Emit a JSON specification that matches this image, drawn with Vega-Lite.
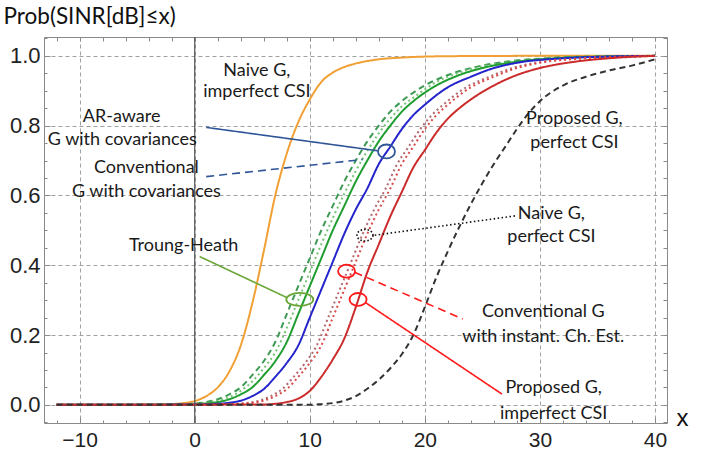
{
  "$schema": "https://vega.github.io/schema/vega-lite/v6.json",
  "width": 623,
  "height": 386,
  "autosize": {"type": "none"},
  "padding": {"left": 44, "top": 37, "right": 44, "bottom": 27},
  "background": "white",
  "config": {"view": {"stroke": "#8a8a8a", "strokeWidth": 1}},
  "resolve": {"axis": {"x": "independent", "y": "independent"}, "scale": {"color": "independent", "strokeDash": "independent"}},
  "datasets": {
    "curves": [
      {"s": "naiveImp", "x": -12, "y": 0}, {"s": "naiveImp", "x": -6, "y": 0.0005}, {"s": "naiveImp", "x": -3, "y": 0.001}, {"s": "naiveImp", "x": -1, "y": 0.005}, {"s": "naiveImp", "x": 0, "y": 0.011}, {"s": "naiveImp", "x": 1, "y": 0.025}, {"s": "naiveImp", "x": 2, "y": 0.05}, {"s": "naiveImp", "x": 3, "y": 0.095}, {"s": "naiveImp", "x": 4, "y": 0.17}, {"s": "naiveImp", "x": 5, "y": 0.29}, {"s": "naiveImp", "x": 6, "y": 0.44}, {"s": "naiveImp", "x": 7, "y": 0.6}, {"s": "naiveImp", "x": 8, "y": 0.72}, {"s": "naiveImp", "x": 9, "y": 0.81}, {"s": "naiveImp", "x": 10, "y": 0.875}, {"s": "naiveImp", "x": 11, "y": 0.925}, {"s": "naiveImp", "x": 12, "y": 0.952}, {"s": "naiveImp", "x": 13, "y": 0.968}, {"s": "naiveImp", "x": 14, "y": 0.978}, {"s": "naiveImp", "x": 16, "y": 0.99}, {"s": "naiveImp", "x": 18, "y": 0.995}, {"s": "naiveImp", "x": 22, "y": 0.999}, {"s": "naiveImp", "x": 30, "y": 1}, {"s": "naiveImp", "x": 40, "y": 1},

      {"s": "gDash", "x": -12, "y": 0}, {"s": "gDash", "x": -2, "y": 0.001}, {"s": "gDash", "x": 0, "y": 0.004}, {"s": "gDash", "x": 1, "y": 0.008}, {"s": "gDash", "x": 2, "y": 0.016}, {"s": "gDash", "x": 3, "y": 0.03}, {"s": "gDash", "x": 4, "y": 0.05}, {"s": "gDash", "x": 5, "y": 0.085}, {"s": "gDash", "x": 6, "y": 0.125}, {"s": "gDash", "x": 7, "y": 0.18}, {"s": "gDash", "x": 8, "y": 0.26}, {"s": "gDash", "x": 9, "y": 0.34}, {"s": "gDash", "x": 10, "y": 0.42}, {"s": "gDash", "x": 11, "y": 0.5}, {"s": "gDash", "x": 12, "y": 0.57}, {"s": "gDash", "x": 13, "y": 0.64}, {"s": "gDash", "x": 14, "y": 0.7}, {"s": "gDash", "x": 15, "y": 0.755}, {"s": "gDash", "x": 16, "y": 0.8}, {"s": "gDash", "x": 17, "y": 0.84}, {"s": "gDash", "x": 18, "y": 0.87}, {"s": "gDash", "x": 20, "y": 0.915}, {"s": "gDash", "x": 22, "y": 0.945}, {"s": "gDash", "x": 24, "y": 0.965}, {"s": "gDash", "x": 27, "y": 0.983}, {"s": "gDash", "x": 31, "y": 0.994}, {"s": "gDash", "x": 36, "y": 0.999}, {"s": "gDash", "x": 40, "y": 1},

      {"s": "gDot", "x": -12, "y": 0}, {"s": "gDot", "x": -1, "y": 0.002}, {"s": "gDot", "x": 0, "y": 0.004}, {"s": "gDot", "x": 1, "y": 0.006}, {"s": "gDot", "x": 2, "y": 0.012}, {"s": "gDot", "x": 3, "y": 0.022}, {"s": "gDot", "x": 4, "y": 0.04}, {"s": "gDot", "x": 5, "y": 0.067}, {"s": "gDot", "x": 6, "y": 0.105}, {"s": "gDot", "x": 7, "y": 0.15}, {"s": "gDot", "x": 8, "y": 0.22}, {"s": "gDot", "x": 9, "y": 0.3}, {"s": "gDot", "x": 10, "y": 0.38}, {"s": "gDot", "x": 11, "y": 0.46}, {"s": "gDot", "x": 12, "y": 0.535}, {"s": "gDot", "x": 13, "y": 0.605}, {"s": "gDot", "x": 14, "y": 0.67}, {"s": "gDot", "x": 15, "y": 0.728}, {"s": "gDot", "x": 16, "y": 0.778}, {"s": "gDot", "x": 17, "y": 0.82}, {"s": "gDot", "x": 18, "y": 0.855}, {"s": "gDot", "x": 19, "y": 0.88}, {"s": "gDot", "x": 21, "y": 0.925}, {"s": "gDot", "x": 23, "y": 0.952}, {"s": "gDot", "x": 25, "y": 0.97}, {"s": "gDot", "x": 28, "y": 0.985}, {"s": "gDot", "x": 32, "y": 0.995}, {"s": "gDot", "x": 40, "y": 1},

      {"s": "gSolid", "x": -12, "y": 0}, {"s": "gSolid", "x": -1, "y": 0.001}, {"s": "gSolid", "x": 1, "y": 0.004}, {"s": "gSolid", "x": 2, "y": 0.008}, {"s": "gSolid", "x": 3, "y": 0.016}, {"s": "gSolid", "x": 4, "y": 0.03}, {"s": "gSolid", "x": 5, "y": 0.05}, {"s": "gSolid", "x": 6, "y": 0.085}, {"s": "gSolid", "x": 7, "y": 0.125}, {"s": "gSolid", "x": 8, "y": 0.18}, {"s": "gSolid", "x": 9, "y": 0.26}, {"s": "gSolid", "x": 10, "y": 0.34}, {"s": "gSolid", "x": 11, "y": 0.42}, {"s": "gSolid", "x": 12, "y": 0.5}, {"s": "gSolid", "x": 13, "y": 0.57}, {"s": "gSolid", "x": 14, "y": 0.64}, {"s": "gSolid", "x": 15, "y": 0.7}, {"s": "gSolid", "x": 16, "y": 0.755}, {"s": "gSolid", "x": 17, "y": 0.8}, {"s": "gSolid", "x": 18, "y": 0.84}, {"s": "gSolid", "x": 19, "y": 0.87}, {"s": "gSolid", "x": 21, "y": 0.915}, {"s": "gSolid", "x": 23, "y": 0.945}, {"s": "gSolid", "x": 25, "y": 0.965}, {"s": "gSolid", "x": 28, "y": 0.983}, {"s": "gSolid", "x": 32, "y": 0.994}, {"s": "gSolid", "x": 36, "y": 0.998}, {"s": "gSolid", "x": 40, "y": 1},

      {"s": "blue", "x": -12, "y": 0}, {"s": "blue", "x": 0, "y": 0.001}, {"s": "blue", "x": 2, "y": 0.003}, {"s": "blue", "x": 3, "y": 0.006}, {"s": "blue", "x": 4, "y": 0.012}, {"s": "blue", "x": 5, "y": 0.025}, {"s": "blue", "x": 6, "y": 0.045}, {"s": "blue", "x": 7, "y": 0.08}, {"s": "blue", "x": 8, "y": 0.12}, {"s": "blue", "x": 9, "y": 0.17}, {"s": "blue", "x": 10, "y": 0.25}, {"s": "blue", "x": 11, "y": 0.33}, {"s": "blue", "x": 12, "y": 0.41}, {"s": "blue", "x": 13, "y": 0.49}, {"s": "blue", "x": 14, "y": 0.56}, {"s": "blue", "x": 15, "y": 0.62}, {"s": "blue", "x": 16, "y": 0.69}, {"s": "blue", "x": 17, "y": 0.74}, {"s": "blue", "x": 18, "y": 0.79}, {"s": "blue", "x": 19, "y": 0.83}, {"s": "blue", "x": 20, "y": 0.86}, {"s": "blue", "x": 22, "y": 0.91}, {"s": "blue", "x": 24, "y": 0.94}, {"s": "blue", "x": 26, "y": 0.965}, {"s": "blue", "x": 28, "y": 0.98}, {"s": "blue", "x": 32, "y": 0.993}, {"s": "blue", "x": 36, "y": 0.998}, {"s": "blue", "x": 40, "y": 1},

      {"s": "brownDot", "x": -12, "y": 0}, {"s": "brownDot", "x": 1.6, "y": 0.001}, {"s": "brownDot", "x": 3.6, "y": 0.003}, {"s": "brownDot", "x": 4.6, "y": 0.006}, {"s": "brownDot", "x": 5.6, "y": 0.012}, {"s": "brownDot", "x": 6.6, "y": 0.025}, {"s": "brownDot", "x": 7.6, "y": 0.045}, {"s": "brownDot", "x": 8.6, "y": 0.08}, {"s": "brownDot", "x": 9.6, "y": 0.12}, {"s": "brownDot", "x": 10.6, "y": 0.17}, {"s": "brownDot", "x": 11.6, "y": 0.25}, {"s": "brownDot", "x": 12.6, "y": 0.33}, {"s": "brownDot", "x": 13.6, "y": 0.41}, {"s": "brownDot", "x": 14.6, "y": 0.49}, {"s": "brownDot", "x": 15.6, "y": 0.56}, {"s": "brownDot", "x": 16.6, "y": 0.62}, {"s": "brownDot", "x": 17.6, "y": 0.69}, {"s": "brownDot", "x": 18.6, "y": 0.74}, {"s": "brownDot", "x": 19.6, "y": 0.79}, {"s": "brownDot", "x": 20.6, "y": 0.83}, {"s": "brownDot", "x": 21.6, "y": 0.86}, {"s": "brownDot", "x": 23.6, "y": 0.91}, {"s": "brownDot", "x": 25.6, "y": 0.94}, {"s": "brownDot", "x": 27.6, "y": 0.965}, {"s": "brownDot", "x": 29.6, "y": 0.98}, {"s": "brownDot", "x": 33.6, "y": 0.993}, {"s": "brownDot", "x": 37.6, "y": 0.998}, {"s": "brownDot", "x": 40, "y": 1},

      {"s": "redDot", "x": -12, "y": 0}, {"s": "redDot", "x": 2, "y": 0.001}, {"s": "redDot", "x": 4, "y": 0.003}, {"s": "redDot", "x": 5, "y": 0.006}, {"s": "redDot", "x": 6, "y": 0.012}, {"s": "redDot", "x": 7, "y": 0.025}, {"s": "redDot", "x": 8, "y": 0.045}, {"s": "redDot", "x": 9, "y": 0.08}, {"s": "redDot", "x": 10, "y": 0.12}, {"s": "redDot", "x": 11, "y": 0.17}, {"s": "redDot", "x": 12, "y": 0.25}, {"s": "redDot", "x": 13, "y": 0.33}, {"s": "redDot", "x": 14, "y": 0.41}, {"s": "redDot", "x": 15, "y": 0.49}, {"s": "redDot", "x": 16, "y": 0.56}, {"s": "redDot", "x": 17, "y": 0.62}, {"s": "redDot", "x": 18, "y": 0.69}, {"s": "redDot", "x": 19, "y": 0.74}, {"s": "redDot", "x": 20, "y": 0.79}, {"s": "redDot", "x": 21, "y": 0.83}, {"s": "redDot", "x": 22, "y": 0.86}, {"s": "redDot", "x": 24, "y": 0.91}, {"s": "redDot", "x": 26, "y": 0.94}, {"s": "redDot", "x": 28, "y": 0.965}, {"s": "redDot", "x": 30, "y": 0.98}, {"s": "redDot", "x": 34, "y": 0.993}, {"s": "redDot", "x": 38, "y": 0.998}, {"s": "redDot", "x": 40, "y": 1},

      {"s": "redSolid", "x": -12, "y": 0}, {"s": "redSolid", "x": 6, "y": 0.001}, {"s": "redSolid", "x": 7, "y": 0.003}, {"s": "redSolid", "x": 8, "y": 0.008}, {"s": "redSolid", "x": 9, "y": 0.018}, {"s": "redSolid", "x": 10, "y": 0.04}, {"s": "redSolid", "x": 11, "y": 0.08}, {"s": "redSolid", "x": 12, "y": 0.13}, {"s": "redSolid", "x": 13, "y": 0.19}, {"s": "redSolid", "x": 14, "y": 0.28}, {"s": "redSolid", "x": 15, "y": 0.38}, {"s": "redSolid", "x": 16, "y": 0.46}, {"s": "redSolid", "x": 17, "y": 0.54}, {"s": "redSolid", "x": 18, "y": 0.61}, {"s": "redSolid", "x": 19, "y": 0.68}, {"s": "redSolid", "x": 20, "y": 0.73}, {"s": "redSolid", "x": 21, "y": 0.78}, {"s": "redSolid", "x": 22, "y": 0.82}, {"s": "redSolid", "x": 23, "y": 0.85}, {"s": "redSolid", "x": 24, "y": 0.875}, {"s": "redSolid", "x": 26, "y": 0.915}, {"s": "redSolid", "x": 28, "y": 0.945}, {"s": "redSolid", "x": 30, "y": 0.965}, {"s": "redSolid", "x": 33, "y": 0.983}, {"s": "redSolid", "x": 36, "y": 0.993}, {"s": "redSolid", "x": 40, "y": 1},

      {"s": "blackDash", "x": -12, "y": 0}, {"s": "blackDash", "x": 10, "y": 0}, {"s": "blackDash", "x": 11, "y": 0.002}, {"s": "blackDash", "x": 12, "y": 0.005}, {"s": "blackDash", "x": 13, "y": 0.012}, {"s": "blackDash", "x": 14, "y": 0.025}, {"s": "blackDash", "x": 15, "y": 0.046}, {"s": "blackDash", "x": 16, "y": 0.072}, {"s": "blackDash", "x": 17, "y": 0.105}, {"s": "blackDash", "x": 18, "y": 0.145}, {"s": "blackDash", "x": 19, "y": 0.2}, {"s": "blackDash", "x": 20, "y": 0.28}, {"s": "blackDash", "x": 21, "y": 0.365}, {"s": "blackDash", "x": 22, "y": 0.44}, {"s": "blackDash", "x": 23, "y": 0.51}, {"s": "blackDash", "x": 24, "y": 0.575}, {"s": "blackDash", "x": 25, "y": 0.635}, {"s": "blackDash", "x": 26, "y": 0.69}, {"s": "blackDash", "x": 27, "y": 0.74}, {"s": "blackDash", "x": 28, "y": 0.79}, {"s": "blackDash", "x": 29, "y": 0.835}, {"s": "blackDash", "x": 30, "y": 0.87}, {"s": "blackDash", "x": 32, "y": 0.915}, {"s": "blackDash", "x": 34, "y": 0.94}, {"s": "blackDash", "x": 36, "y": 0.958}, {"s": "blackDash", "x": 38, "y": 0.972}, {"s": "blackDash", "x": 40, "y": 0.99}
    ],
    "ptr": [
      {"k": "blueSolid", "x": 1.0, "y": 0.795, "x2": 15.9, "y2": 0.728},
      {"k": "blueDash", "x": 1.0, "y": 0.654, "x2": 14.6, "y2": 0.703},
      {"k": "green", "x": 0.43, "y": 0.425, "x2": 7.97, "y2": 0.308},
      {"k": "blackDot", "x": 15.65, "y": 0.486, "x2": 27.97, "y2": 0.542},
      {"k": "redDash", "x": 13.9, "y": 0.38, "x2": 23.3, "y2": 0.246},
      {"k": "redSolid", "x": 14.8, "y": 0.294, "x2": 26.7, "y2": 0.031}
    ],
    "ell": [
      {"id": "blue", "x": 16.67, "y": 0.726},
      {"id": "green", "x": 9.13, "y": 0.302},
      {"id": "black", "x": 14.8, "y": 0.486},
      {"id": "redDash", "x": 13.2, "y": 0.383},
      {"id": "redSolid", "x": 14.2, "y": 0.302}
    ],
    "labels": [
      {"t": "Naive G,", "x": 5.4, "y": 0.958},
      {"t": "imperfect CSI", "x": 5.4, "y": 0.895},
      {"t": "AR-aware", "x": -6.35, "y": 0.826},
      {"t": "G with covariances", "x": -6.3, "y": 0.758},
      {"t": "Conventional", "x": -4.2, "y": 0.68},
      {"t": "G with covariances", "x": -4.2, "y": 0.611},
      {"t": "Troung-Heath", "x": -0.96, "y": 0.454},
      {"t": "Proposed G,", "x": 33.0, "y": 0.82},
      {"t": "perfect CSI", "x": 33.0, "y": 0.749},
      {"t": "Naive G,", "x": 31.0, "y": 0.548},
      {"t": "perfect CSI", "x": 31.0, "y": 0.482},
      {"t": "Conventional G", "x": 30.3, "y": 0.265},
      {"t": "with instant. Ch. Est.", "x": 30.3, "y": 0.193},
      {"t": "Proposed G,", "x": 31.2, "y": 0.047},
      {"t": "imperfect CSI", "x": 31.2, "y": -0.025}
    ]
  },
  "layer": [
    {
      "data": {"name": "curves"},
      "mark": {"type": "line", "strokeWidth": 2, "interpolate": "monotone"},
      "encoding": {
        "x": {"field": "x", "type": "quantitative",
          "scale": {"domain": [-13.1, 41.05], "nice": false, "zero": false},
          "axis": {"orient": "bottom", "values": [-10, 0, 10, 20, 30, 40], "format": "d",
            "grid": true, "gridDash": [4, 3], "gridColor": "#a0a0a0", "gridWidth": 1,
            "domain": false, "ticks": true, "tickSize": -6, "tickColor": "#8a8a8a",
            "labelFont": "Liberation Sans", "labelFontSize": 21, "labelColor": "#222222", "labelPadding": 12,
            "title": "x", "titleFont": "Liberation Sans", "titleFontSize": 24, "titleFontWeight": "normal", "titleColor": "#111111",
            "titleX": 632, "titleY": -5, "titleAlign": "left", "titleBaseline": "middle", "titleAngle": 0}},
        "y": {"field": "y", "type": "quantitative",
          "scale": {"domain": [-0.052, 1.054], "nice": false, "zero": false},
          "axis": {"orient": "left", "values": [0, 0.2, 0.4, 0.6, 0.8, 1.0], "format": ".1f",
            "grid": true, "gridDash": [4, 3], "gridColor": "#a0a0a0", "gridWidth": 1,
            "domain": false, "ticks": true, "tickSize": -6, "tickColor": "#8a8a8a",
            "labelFont": "Liberation Sans", "labelFontSize": 22, "labelColor": "#222222", "labelPadding": 10,
            "title": "Prob(SINR[dB]≤x)", "titleFont": "Lato", "titleFontSize": 22.5, "titleFontWeight": "normal", "titleColor": "#111111",
            "titleX": -41, "titleY": -21, "titleAlign": "left", "titleBaseline": "middle", "titleAngle": 0}},
        "color": {"field": "s", "type": "nominal", "legend": null,
          "scale": {"domain": ["naiveImp", "gDash", "gDot", "gSolid", "blue", "brownDot", "redDot", "redSolid", "blackDash"],
            "range": ["#f0a035", "#3f9a55", "#74c474", "#1f9e2f", "#2424cc", "#b3686e", "#d84a4a", "#cc2b2b", "#333333"]}},
        "strokeDash": {"field": "s", "type": "nominal", "legend": null,
          "scale": {"domain": ["naiveImp", "gDash", "gDot", "gSolid", "blue", "brownDot", "redDot", "redSolid", "blackDash"],
            "range": [[1, 0], [6, 4], [2, 3], [1, 0], [1, 0], [2, 3], [2, 3], [1, 0], [6, 4]]}}
      }
    },
    {
      "data": {"values": [{"x0": 0}]},
      "mark": {"type": "rule", "color": "#555555", "strokeWidth": 1.2},
      "encoding": {
        "x": {"field": "x0", "type": "quantitative",
          "axis": {"orient": "top", "values": [-12, -10, -8, -6, -4, -2, 0, 2, 4, 6, 8, 10, 12, 14, 16, 18, 20, 22, 24, 26, 28, 30, 32, 34, 36, 38, 40],
            "labels": false, "grid": false, "domain": false, "tickSize": -4, "tickColor": "#8a8a8a", "title": null}}
      }
    },
    {
      "data": {"values": [{"x0": 0}]},
      "mark": {"type": "rule", "opacity": 0},
      "encoding": {
        "x": {"field": "x0", "type": "quantitative",
          "axis": {"orient": "bottom", "values": [-12, -8, -6, -4, -2, 2, 4, 6, 8, 12, 14, 16, 18, 22, 24, 26, 28, 32, 34, 36, 38],
            "labels": false, "grid": false, "domain": false, "tickSize": -3, "tickColor": "#8a8a8a", "title": null}}
      }
    },
    {
      "data": {"name": "ptr"},
      "mark": {"type": "rule", "strokeWidth": 1.6},
      "encoding": {
        "x": {"field": "x", "type": "quantitative", "axis": null},
        "y": {"field": "y", "type": "quantitative", "axis": null},
        "x2": {"field": "x2"},
        "y2": {"field": "y2"},
        "color": {"field": "k", "type": "nominal", "legend": null,
          "scale": {"domain": ["blueSolid", "blueDash", "green", "blackDot", "redDash", "redSolid"],
            "range": ["#2f5597", "#2f5597", "#6aa636", "#111111", "#ff1a1a", "#ff1a1a"]}},
        "strokeDash": {"field": "k", "type": "nominal", "legend": null,
          "scale": {"domain": ["blueSolid", "blueDash", "green", "blackDot", "redDash", "redSolid"],
            "range": [[1, 0], [8, 5], [1, 0], [1.5, 2.5], [8, 5], [1, 0]]}}
      }
    },
    {
      "data": {"name": "ell"},
      "transform": [{"filter": "datum.id === 'blue'"}],
      "mark": {"type": "point", "filled": false, "stroke": "#2f5597", "strokeWidth": 1.8, "opacity": 1, "size": 289,
        "shape": "M1,0 C1,0.453 0.5523,0.82 0,0.82 C-0.5523,0.82 -1,0.453 -1,0 C-1,-0.453 -0.5523,-0.82 0,-0.82 C0.5523,-0.82 1,-0.453 1,0 Z"},
      "encoding": {
        "x": {"field": "x", "type": "quantitative", "axis": null},
        "y": {"field": "y", "type": "quantitative", "axis": null}
      }
    },
    {
      "data": {"name": "ell"},
      "transform": [{"filter": "datum.id === 'green'"}],
      "mark": {"type": "point", "filled": false, "stroke": "#6aa636", "strokeWidth": 1.8, "opacity": 1, "size": 729,
        "shape": "M1,0 C1,0.265 0.5523,0.48 0,0.48 C-0.5523,0.48 -1,0.265 -1,0 C-1,-0.265 -0.5523,-0.48 0,-0.48 C0.5523,-0.48 1,-0.265 1,0 Z"},
      "encoding": {
        "x": {"field": "x", "type": "quantitative", "axis": null},
        "y": {"field": "y", "type": "quantitative", "axis": null}
      }
    },
    {
      "data": {"name": "ell"},
      "transform": [{"filter": "datum.id === 'black'"}],
      "mark": {"type": "point", "filled": false, "stroke": "#111111", "strokeWidth": 1.6, "strokeDash": [1.5, 2], "opacity": 1, "size": 256,
        "shape": "M1,0 C1,0.398 0.5523,0.72 0,0.72 C-0.5523,0.72 -1,0.398 -1,0 C-1,-0.398 -0.5523,-0.72 0,-0.72 C0.5523,-0.72 1,-0.398 1,0 Z"},
      "encoding": {
        "x": {"field": "x", "type": "quantitative", "axis": null},
        "y": {"field": "y", "type": "quantitative", "axis": null}
      }
    },
    {
      "data": {"name": "ell"},
      "transform": [{"filter": "datum.id === 'redDash' || datum.id === 'redSolid'"}],
      "mark": {"type": "point", "filled": false, "stroke": "#ff1a1a", "strokeWidth": 1.8, "opacity": 1, "size": 289,
        "shape": "M1,0 C1,0.42 0.5523,0.76 0,0.76 C-0.5523,0.76 -1,0.42 -1,0 C-1,-0.42 -0.5523,-0.76 0,-0.76 C0.5523,-0.76 1,-0.42 1,0 Z"},
      "encoding": {
        "x": {"field": "x", "type": "quantitative", "axis": null},
        "y": {"field": "y", "type": "quantitative", "axis": null}
      }
    },
    {
      "data": {"name": "labels"},
      "mark": {"type": "text", "font": "Lato", "fontSize": 18, "color": "#1a1a1a", "align": "center", "baseline": "middle"},
      "encoding": {
        "x": {"field": "x", "type": "quantitative", "axis": null},
        "y": {"field": "y", "type": "quantitative",
          "axis": {"orient": "right", "values": [-0.05, 0, 0.05, 0.1, 0.15, 0.2, 0.25, 0.3, 0.35, 0.4, 0.45, 0.5, 0.55, 0.6, 0.65, 0.7, 0.75, 0.8, 0.85, 0.9, 0.95, 1.0, 1.05],
            "labels": false, "grid": false, "domain": false, "tickSize": -4, "tickColor": "#8a8a8a", "title": null}},
        "text": {"field": "t"}
      }
    },
    {
      "data": {"values": [{"y0": 0}]},
      "mark": {"type": "rule", "opacity": 0},
      "encoding": {
        "y": {"field": "y0", "type": "quantitative",
          "axis": {"orient": "left", "values": [-0.05, 0.05, 0.1, 0.15, 0.25, 0.3, 0.35, 0.45, 0.5, 0.55, 0.65, 0.7, 0.75, 0.85, 0.9, 0.95, 1.05],
            "labels": false, "grid": false, "domain": false, "tickSize": -3, "tickColor": "#8a8a8a", "title": null}}
      }
    }
  ]
}
